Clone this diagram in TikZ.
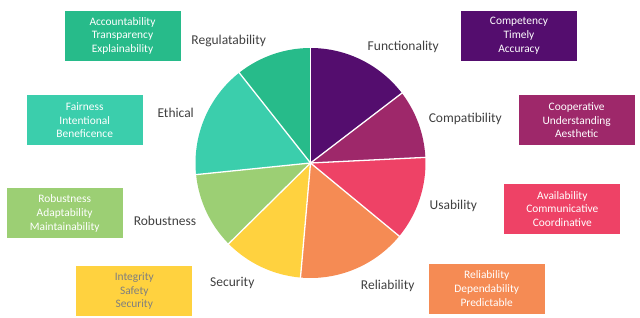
\documentclass[tikz,border=0pt]{standalone}
\usepackage{fontspec}
\setmainfont{Carlito}
\definecolor{cFun}{HTML}{540D6E}
\definecolor{cCom}{HTML}{9E286A}
\definecolor{cUsa}{HTML}{EE4266}
\definecolor{cRel}{HTML}{F58B54}
\definecolor{cSec}{HTML}{FFD23F}
\definecolor{cRob}{HTML}{9CCF74}
\definecolor{cEth}{HTML}{3BCEAC}
\definecolor{cReg}{HTML}{27BB8A}
\definecolor{lbl}{HTML}{404040}
\definecolor{gtxt}{HTML}{7F7F7F}
\begin{document}
\begin{tikzpicture}[x=1pt,y=1pt,
  infobox/.style={minimum width=116pt,minimum height=50pt,inner sep=0pt,align=center,
    text=white,font=\fontsize{11.4}{13.8}\selectfont},
  catlabel/.style={text=lbl,font=\fontsize{13.5}{15}\selectfont,inner sep=0pt},
  sep/.style={white,line width=1.3pt}]
\useasboundingbox (0,0) rectangle (640,318);
\coordinate (c) at (310.5,155);
\def\r{115}
\fill[cFun] (c) -- ++(90:\r) arc[start angle=90,end angle=37.4,radius=\r] -- cycle;
\fill[cCom] (c) -- ++(37.4:\r) arc[start angle=37.4,end angle=2.8,radius=\r] -- cycle;
\fill[cUsa] (c) -- ++(2.8:\r) arc[start angle=2.8,end angle=-39.5,radius=\r] -- cycle;
\fill[cRel] (c) -- ++(-39.5:\r) arc[start angle=-39.5,end angle=-95,radius=\r] -- cycle;
\fill[cSec] (c) -- ++(-95:\r) arc[start angle=-95,end angle=-135.4,radius=\r] -- cycle;
\fill[cRob] (c) -- ++(224.6:\r) arc[start angle=224.6,end angle=185.8,radius=\r] -- cycle;
\fill[cEth] (c) -- ++(185.8:\r) arc[start angle=185.8,end angle=128.3,radius=\r] -- cycle;
\fill[cReg] (c) -- ++(128.3:\r) arc[start angle=128.3,end angle=90,radius=\r] -- cycle;
\foreach \a in {90,37.4,2.8,-39.5,-95,224.6,185.8,128.3}
  \draw[sep] (c) -- ++(\a:\r+1);
% boxes
\node[infobox,fill=cReg] (bReg) at (122.5,282.2) {Accountability\\Transparency\\Explainability};
\node[infobox,fill=cEth] (bEth) at (84.7,197.7) {Fairness\\Intentional\\Beneficence};
\node[infobox,fill=cRob] (bRob) at (64.7,104.8) {Robustness\\Adaptability\\Maintainability};
\node[infobox,fill=cSec,text=gtxt] (bSec) at (134.3,27) {Integrity\\Safety\\Security};
\node[infobox,fill=cFun] (bFun) at (519,282) {Competency\\Timely\\Accuracy};
\node[infobox,fill=cCom] (bCom) at (576.7,197.7) {Cooperative\\Understanding\\Aesthetic};
\node[infobox,fill=cUsa] (bUsa) at (562.3,109) {Availability\\Communicative\\Coordinative};
\node[infobox,fill=cRel] (bRel) at (486.7,29.3) {Reliability\\Dependability\\Predictable};
% labels
\node[catlabel] (lReg) at (228.7,277.3) {Regulatability};
\node[catlabel] (lEth) at (175.7,204.7) {Ethical};
\node[catlabel] (lRob) at (165,97.3) {Robustness};
\node[catlabel] (lSec) at (232.3,34.7) {Security};
\node[catlabel] (lFun) at (403.3,271.3) {Functionality};
\node[catlabel] (lCom) at (465.3,199) {Compatibility};
\node[catlabel] (lUsa) at (453.3,112.3) {Usability};
\node[catlabel] (lRel) at (387.7,32.3) {Reliability};
\end{tikzpicture}
\end{document}
